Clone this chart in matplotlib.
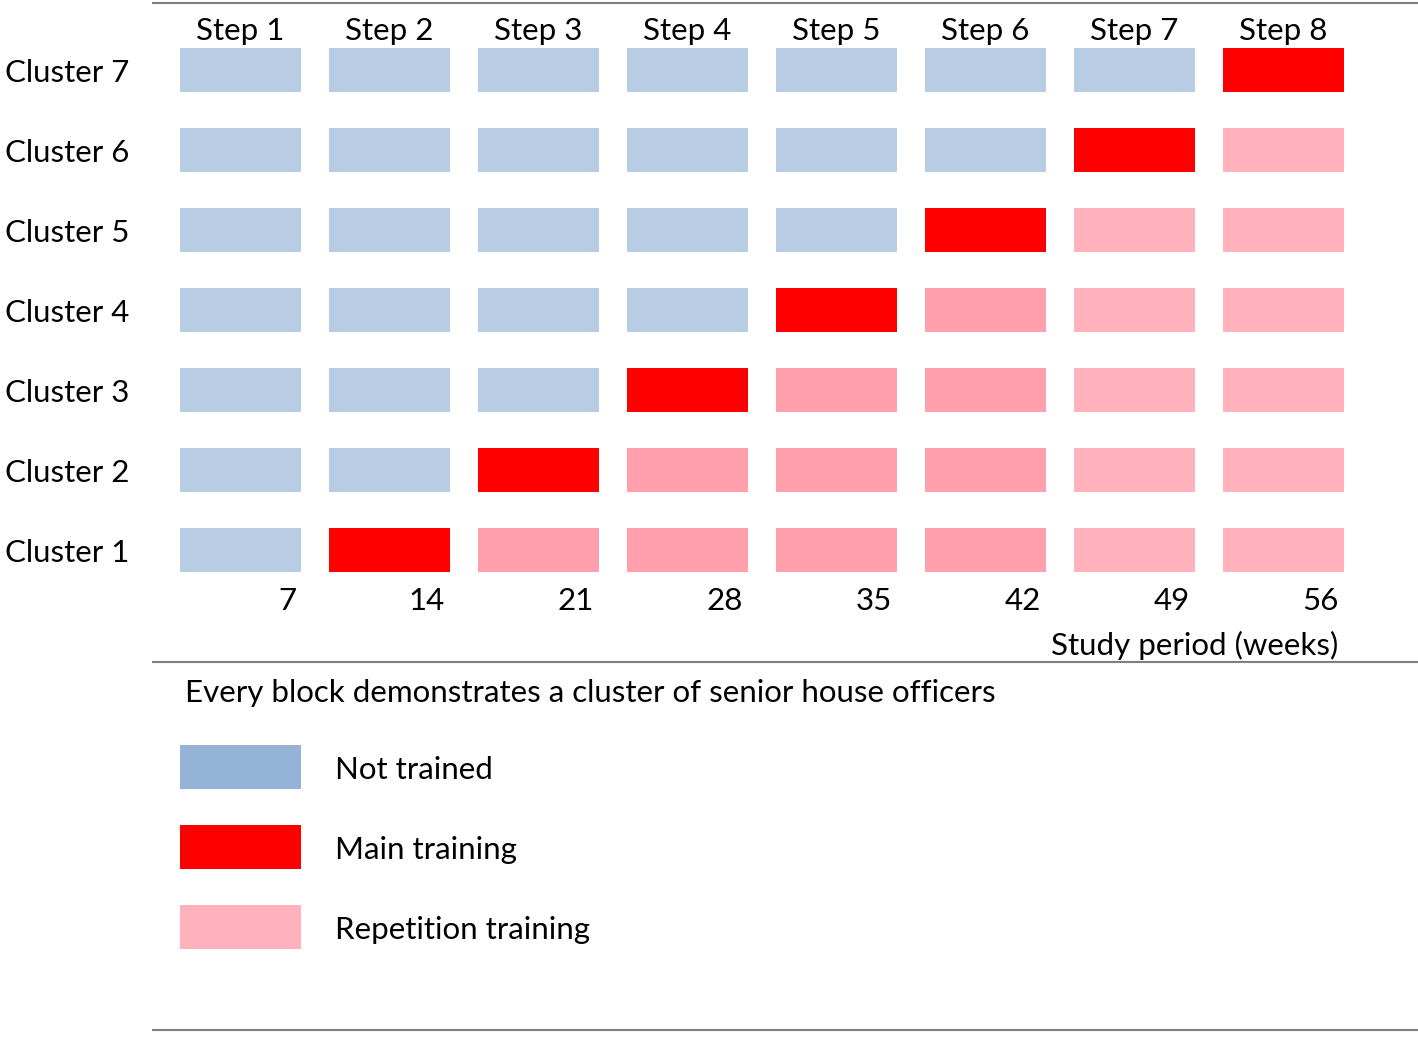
import matplotlib.pyplot as plt
from matplotlib.patches import Rectangle

plt.rcParams['font.family'] = ['Lato', 'DejaVu Sans']

steps = ["Step 1", "Step 2", "Step 3", "Step 4", "Step 5", "Step 6", "Step 7", "Step 8"]
weeks = [7, 14, 21, 28, 35, 42, 49, 56]
clusters = ["Cluster 1", "Cluster 2", "Cluster 3", "Cluster 4", "Cluster 5", "Cluster 6", "Cluster 7"]
# N = not trained, M = main training, R / L = repetition (darker / lighter shade)
design = [
    "NMRRRRLL",
    "NNMRRRLL",
    "NNNMRRLL",
    "NNNNMRLL",
    "NNNNNMLL",
    "NNNNNNML",
    "NNNNNNNM",
]
legend_codes = ["N2", "M", "L"]
legend_labels = ["Not trained", "Main training", "Repetition training"]

colors = {"N": "#B8CCE4", "N2": "#95B3D7", "M": "#FF0000", "R": "#FFA0AC", "L": "#FFB1BC"}

fig = plt.figure(figsize=(14.18, 10.38), dpi=100)
ax = fig.add_axes([0, 0, 1, 1])
# map weeks / cluster rows onto the page
px = 149 / 7
ax.set_xlim(-152 / px, (1418 - 152) / px)
ax.set_ylim(1 - 488 / 80, 1 + 550 / 80)
ax.axis("off")

bw = 121 / px
bh = 44 / 80
fs = 22.5
dy = 3 / 80  # nudge text down a little

for i, row in enumerate(design):
    y = i + 1
    for j, code in enumerate(row):
        ax.add_patch(Rectangle((weeks[j] - bw, y - bh / 2), bw, bh,
                               facecolor=colors[code], edgecolor="none"))
    ax.text(-147 / px, y - dy, clusters[i], ha="left", va="center", fontsize=fs)

top_y = 1 + (550 - 28) / 80
for j, s in enumerate(steps):
    ax.text(weeks[j] - bw / 2, top_y - dy, s, ha="center", va="center", fontsize=fs)
    ax.text(weeks[j] - 5 / px, 1 - (598 - 550) / 80 - dy, str(weeks[j]),
            ha="right", va="center", fontsize=fs)

ax.text(weeks[-1] - 6 / px, 1 - (642 - 550) / 80 - dy, "Study period (weeks)",
        ha="right", va="center", fontsize=fs)
ax.text(weeks[0] - bw + 5 / px, 1 - (690 - 550) / 80 - dy,
        "Every block demonstrates a cluster of senior house officers",
        ha="left", va="center", fontsize=fs)

for k, (code, lab) in enumerate(zip(legend_codes, legend_labels)):
    y = 1 - (767 + 80 * k - 550) / 80
    ax.add_patch(Rectangle((weeks[0] - bw, y - bh / 2), bw, bh,
                           facecolor=colors[code], edgecolor="none"))
    ax.text((335 - 152) / px, y - dy, lab, ha="left", va="center", fontsize=fs)

for ly in [3, 662, 1030]:
    yy = 1 - (ly - 550) / 80
    ax.plot([0, (1418 - 152) / px], [yy, yy], color="#7F7F7F", lw=1.5,
            solid_capstyle="butt")

fig.savefig("out.png", dpi=100)
